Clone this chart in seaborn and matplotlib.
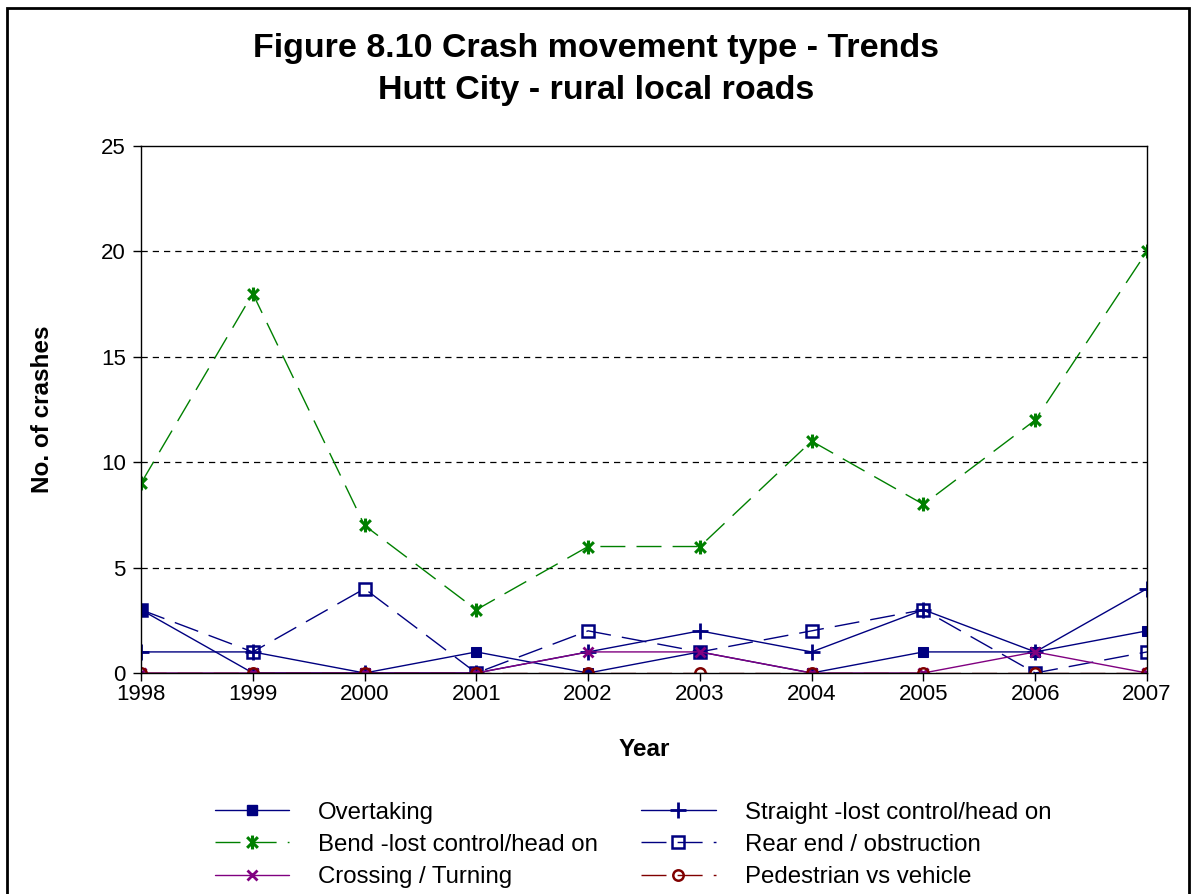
import matplotlib
matplotlib.use("Agg")
import matplotlib.pyplot as plt
from matplotlib.path import Path
from matplotlib.patches import Rectangle
from matplotlib.lines import Line2D
import seaborn as sns
import pandas as pd

years = ["1998", "1999", "2000", "2001", "2002", "2003", "2004", "2005", "2006", "2007"]
overtaking = [3, 0, 0, 1, 0, 1, 0, 1, 1, 2]
straight = [1, 1, 0, 0, 1, 2, 1, 3, 1, 4]
bend = [9, 18, 7, 3, 6, 6, 11, 8, 12, 20]
rear_end = [3, 1, 4, 0, 2, 1, 2, 3, 0, 1]
crossing = [0, 0, 0, 0, 1, 1, 0, 0, 1, 0]
pedestrian = [0, 0, 0, 0, 0, 0, 0, 0, 0, 0]

y_ticks = [0, 5, 10, 15, 20, 25]

sns.set_theme(style="white", rc={"text.color": "black", "axes.labelcolor": "black",
                                 "xtick.color": "black", "ytick.color": "black"})
plt.rcParams["font.family"] = ["Liberation Sans", "DejaVu Sans"]

fig = plt.figure(figsize=(11.92, 8.94), dpi=100)
ax = fig.add_axes([141 / 1192, 1 - 673 / 894, (1147 - 141) / 1192, (673 - 146) / 894])

# asterisk marker: an x crossed by a vertical stroke
star = Path(
    [(-1, -1), (1, 1), (-1, 1), (1, -1), (0, -1.3), (0, 1.3)],
    [Path.MOVETO, Path.LINETO, Path.MOVETO, Path.LINETO, Path.MOVETO, Path.LINETO],
)

navy = "#000080"
green = "#008000"
purple = "#800080"
maroon = "#800000"
long_dash = (0, (18, 8))

series = [
    ("Overtaking", overtaking, dict(color=navy, marker="s", markersize=7,
                                     markerfacecolor=navy, markeredgecolor=navy,
                                     linestyle="-")),
    ("Straight -lost control/head on", straight, dict(color=navy, marker="+", markersize=11,
                                                      markeredgewidth=2, markeredgecolor=navy,
                                                      linestyle="-")),
    ("Bend -lost control/head on", bend, dict(color=green, marker=star, markersize=10,
                                              markeredgewidth=2.2, markeredgecolor=green,
                                              markerfacecolor=green, linestyle=long_dash)),
    ("Rear end / obstruction", rear_end, dict(color=navy, marker="s", markersize=8,
                                              markerfacecolor="none", markeredgecolor=navy,
                                              markeredgewidth=1.8, linestyle=long_dash)),
    ("Crossing / Turning", crossing, dict(color=purple, marker="x", markersize=7,
                                          markeredgewidth=2, markeredgecolor=purple,
                                          linestyle="-")),
    ("Pedestrian vs vehicle", pedestrian, dict(color=maroon, marker="o", markersize=7.5,
                                               markerfacecolor="none", markeredgecolor=maroon,
                                               markeredgewidth=1.8, linestyle=long_dash)),
]

xpos = list(range(len(years)))
handles = {}
for name, vals, style in series:
    df = pd.DataFrame({"x": xpos, "y": vals})
    sns.lineplot(data=df, x="x", y="y", ax=ax, linewidth=1.0, legend=False, **style)
    handles[name] = Line2D([], [], linewidth=1.0, **style)

ax.set_xlim(0, len(years) - 1)
ax.set_ylim(0, 25)
ax.set_xticks(xpos)
ax.set_xticklabels(years)
ax.set_yticks(y_ticks)
ax.set_yticklabels([str(t) for t in y_ticks])
ax.tick_params(axis="both", labelsize=16, colors="black", direction="out",
               length=6, width=1, bottom=True, left=True)
ax.tick_params(axis="x", pad=2)
ax.tick_params(axis="y", pad=5)

for v in y_ticks[1:-1]:
    ax.axhline(v, color="black", linewidth=0.9, linestyle=(0, (5, 4)), zorder=0)

for side in ["left", "right", "top", "bottom"]:
    ax.spines[side].set_visible(True)
    ax.spines[side].set_color("black")
    ax.spines[side].set_linewidth(1.0)

ax.set_xlabel("Year", fontsize=17.5, fontweight="bold", labelpad=24)
ax.set_ylabel("No. of crashes", fontsize=17.5, fontweight="bold", labelpad=34)

fig.text(0.5, 1 - 48 / 894, "Figure 8.10 Crash movement type - Trends",
         ha="center", va="center", fontsize=24.5, fontweight="bold")
fig.text(0.5, 1 - 90 / 894, "Hutt City - rural local roads",
         ha="center", va="center", fontsize=24.5, fontweight="bold")

order = ["Overtaking", "Bend -lost control/head on", "Crossing / Turning",
         "Straight -lost control/head on", "Rear end / obstruction", "Pedestrian vs vehicle"]
fig.legend([handles[n] for n in order], order, ncol=2, frameon=False,
           loc="upper left", bbox_to_anchor=(210 / 1192, 1 - 797 / 894),
           fontsize=17.3, handlelength=3.1, handletextpad=1.2, columnspacing=1.8,
           labelspacing=0.42, borderaxespad=0, borderpad=0.2)

fig.add_artist(Rectangle((6.5 / 1192, -0.05), (1189 - 6.5) / 1192, 1.05 - 8 / 894,
                         transform=fig.transFigure, fill=False, edgecolor="black",
                         linewidth=2))

fig.savefig("out.png", dpi=100, facecolor="white")
